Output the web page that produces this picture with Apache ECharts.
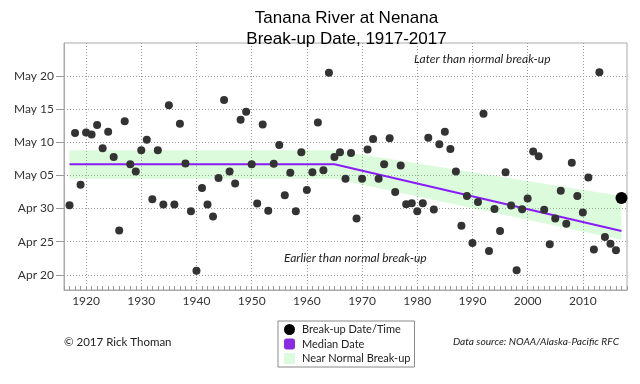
<!DOCTYPE html>
<html>
<head>
<meta charset="utf-8">
<script src="https://cdn.jsdelivr.net/npm/echarts@6/dist/echarts.min.js"></script>
<style>html,body{margin:0;padding:0;background:#fff}#c{width:640px;height:384px}</style>
</head>
<body>
<div id="c"></div>
<script>
// Break-up years and dates (day of year, Apr 30 = 120; fraction = time of day)
var years = [];
for (var y = 1917; y <= 2017; y++) years.push(y);
var breakupDay = [
  120.5, 131.4, 123.6, 131.5, 131.2, 132.6, 129.1, 131.6, 127.8, 116.7,
  133.2, 126.7, 125.6, 128.8, 130.4, 121.4, 128.8, 120.6, 135.6, 120.6,
  132.8, 126.8, 119.6, 110.6, 123.1, 120.6, 118.8, 124.6, 136.4, 125.6,
  123.8, 133.4, 134.6, 126.7, 120.75, 132.7, 119.65, 126.75, 129.6, 122.0,
  125.4, 119.6, 128.5, 122.8, 125.5, 133.0, 125.8, 140.5, 127.8, 128.5,
  124.5, 128.4, 118.5, 124.5, 128.9, 130.5, 124.5, 126.7, 130.6, 122.5,
  126.5, 120.65, 120.8, 119.6, 120.8, 130.7, 119.85, 129.7, 131.6, 129.0,
  125.6, 117.4, 121.9, 114.8, 121.0, 134.3, 113.6, 119.95, 116.6, 125.5,
  120.45, 110.7, 119.9, 121.5, 128.6, 127.9, 119.8, 114.6, 118.5, 122.7,
  117.7, 126.9, 121.9, 119.4, 124.7, 113.8, 140.6, 115.7, 114.7, 113.7,
  121.6
];
// Median break-up date (piecewise) and near-normal band
var medianYears = [1917, 1965, 2017];
var medianDay = [126.7, 126.7, 116.6];
var bandLower = [124.5, 124.5, 115.3];
var bandUpper = [128.8, 128.8, 121.9];
// Axis ticks
var xTickYears = [1920, 1930, 1940, 1950, 1960, 1970, 1980, 1990, 2000, 2010];
var yTickValues = [110, 115, 120, 125, 130, 135, 140];
var yTickLabels = ['Apr 20', 'Apr 25', 'Apr 30', 'May 05', 'May 10', 'May 15', 'May 20'];

var pts = [], last = [];
for (var i = 0; i < years.length; i++) {
  if (years[i] === 2017) last.push([years[i], breakupDay[i]]);
  else pts.push([years[i], breakupDay[i]]);
}
var medData = medianYears.map(function (yr, i) { return [yr, medianDay[i]]; });
var bandData = medianYears.map(function (yr, i) { return [yr, bandLower[i], bandUpper[i]]; });

var FONT = 'Lato';
var GREEN = 'rgba(140,240,140,0.3)';
var GRID = {type: [1, 2], color: '#999', width: 1};
var chart = echarts.init(document.getElementById('c'), null, {renderer: 'canvas'});
chart.setOption({
  animation: false,
  backgroundColor: '#fff',
  title: {
    text: 'Tanana River at Nenana\nBreak-up Date, 1917-2017',
    left: 341.5, top: 3, textAlign: 'center',
    textStyle: {fontFamily: 'Liberation Sans', fontSize: 17, fontWeight: 'normal', lineHeight: 21, color: '#000'}
  },
  grid: {left: 64, right: 13, top: 43, bottom: 94, show: true, borderColor: '#aaa', borderWidth: 1},
  legend: {
    orient: 'vertical', left: 278, top: 321,
    padding: [3, 4, 3, 6], itemGap: 3.5, itemWidth: 11, itemHeight: 11,
    borderColor: '#888', borderWidth: 1,
    textStyle: {fontFamily: FONT, fontSize: 11, color: '#222', padding: [0, 0, 0, 2]},
    data: [
      {name: 'Break-up Date/Time', icon: 'circle', itemStyle: {color: '#000'}},
      {name: 'Median Date', icon: 'roundRect', itemStyle: {color: '#8a2be2'}},
      {name: 'Near Normal Break-up', icon: 'rect', itemStyle: {color: '#dcfbdc'}}
    ]
  },
  xAxis: {
    type: 'value', min: 1916, max: 2018, interval: 1,
    axisLine: {show: true, lineStyle: {color: '#aaa'}},
    axisTick: {show: true, inside: true, length: 4, lineStyle: {color: '#999'}},
    axisLabel: {customValues: xTickYears, color: '#333', fontFamily: FONT, fontSize: 12, margin: 5,
      formatter: function (v) { return String(v); }},
    splitLine: {show: false}
  },
  yAxis: {
    type: 'value', min: 107.7, max: 145,
    axisLine: {show: true, lineStyle: {color: '#aaa'}},
    axisTick: {show: true, length: 8, customValues: yTickValues, lineStyle: {color: '#999'}},
    axisLabel: {
      customValues: yTickValues, color: '#333', fontFamily: FONT, fontSize: 12, margin: 10,
      formatter: function (v) { var k = yTickValues.indexOf(v); return k >= 0 ? yTickLabels[k] : ''; }
    },
    splitLine: {show: true, lineStyle: GRID}
  },
  graphic: [
    {type: 'text', left: 414, top: 53, style: {text: 'Later than normal break-up', font: 'italic 12px Lato', fill: '#222'}},
    {type: 'text', left: 284, top: 252, style: {text: 'Earlier than normal break-up', font: 'italic 12px Lato', fill: '#222'}},
    {type: 'text', left: 64, top: 336, style: {text: '\u00a9 2017 Rick Thoman', font: '11.5px Lato', fill: '#222'}},
    {type: 'text', right: 21, top: 337, style: {text: 'Data source: NOAA/Alaska-Pacific RFC', font: 'italic 10.2px Lato', fill: '#222'}}
  ],
  series: [
    {name: 'Near Normal Break-up', type: 'custom', data: bandData, silent: true, z: 1,
     itemStyle: {color: '#dcfbdc'}, encode: {x: 0, y: [1, 2]},
     renderItem: function (params, api) {
       if (params.dataIndex !== 0) return null;
       var poly = [], k;
       for (k = 0; k < bandData.length; k++) poly.push(api.coord([bandData[k][0], bandData[k][2]]));
       for (k = bandData.length - 1; k >= 0; k--) poly.push(api.coord([bandData[k][0], bandData[k][1]]));
       return {type: 'polygon', shape: {points: poly}, style: {fill: GREEN}};
     }},
    {name: 'Median Date', type: 'line', data: medData, symbol: 'none', color: '#8a2be2',
     lineStyle: {color: '#8a1cf5', width: 2}, z: 3,
     markLine: {silent: true, symbol: 'none', label: {show: false}, lineStyle: GRID, z: 0,
       data: xTickYears.map(function (v) { return {xAxis: v}; })}},
    {name: 'Break-up Date/Time', type: 'scatter', data: pts, symbolSize: 8,
     itemStyle: {color: '#333', opacity: 1}, z: 4},
    {name: 'Break-up Date/Time', type: 'scatter', data: last, symbolSize: 12,
     itemStyle: {color: '#000', opacity: 1}, z: 5}
  ]
});
</script>
</body>
</html>
